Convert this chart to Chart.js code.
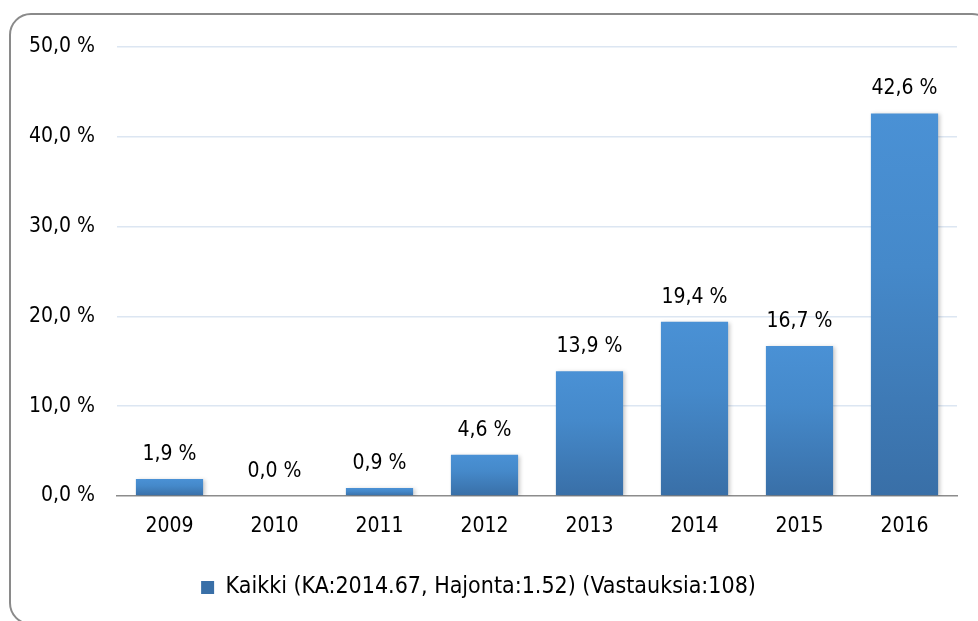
<!DOCTYPE html>
<html>
<head>
<meta charset="utf-8">
<script src="https://cdn.jsdelivr.net/npm/chart.js@4.4.1/dist/chart.umd.min.js"></script>
<style>
  html, body { margin: 0; padding: 0; background: #fff; overflow: hidden; }
  #wrap { position: relative; width: 978px; height: 621px; }
  #frame {
    position: absolute; left: 9px; top: 13px; width: 985px; height: 612px;
    border: 2px solid #8a8a8a; border-radius: 22px; box-sizing: border-box;
  }
  canvas { position: absolute; left: 0; top: 0; }
</style>
</head>
<body>
<div id="wrap">
  <div id="frame"></div>
  <canvas id="barChart" width="978" height="621"></canvas>
</div>
<script>
var years = ["2009", "2010", "2011", "2012", "2013", "2014", "2015", "2016"];
var shares = [1.9, 0.0, 0.9, 4.6, 13.9, 19.4, 16.7, 42.6];
var seriesName = "Kaikki (KA:2014.67, Hajonta:1.52) (Vastauksia:108)";
var yTicks = [0, 10, 20, 30, 40, 50];

var FONT = "'DejaVu Sans Condensed', 'Liberation Sans Narrow', 'DejaVu Sans', sans-serif";

function pct(v) {
    return v.toFixed(1).replace(".", ",") + " %";
}

function barFill(c) {
    var chart = c.chart;
    if (!chart.chartArea || c.type !== "data") return "#4a89cb";
    var y = chart.scales.y;
    var top = y.getPixelForValue(c.raw);
    var base = y.getPixelForValue(0);
    if (base - top < 1) return "#4a8fd2";
    var g = chart.ctx.createLinearGradient(0, top, 0, base);
    g.addColorStop(0, "#4a91d5");
    g.addColorStop(0.4, "#4589ca");
    g.addColorStop(1, "#396fa7");
    return g;
}

// soft shadow under bars + value labels on top
var barExtras = {
    id: "barExtras",
    beforeDatasetsDraw: function(chart) {
        var ctx = chart.ctx;
        ctx.save();
        ctx.shadowColor = "rgba(0,0,0,0.22)";
        ctx.shadowBlur = 4;
        ctx.shadowOffsetX = 2;
        ctx.shadowOffsetY = 1;
    },
    afterDatasetsDraw: function(chart) {
        var ctx = chart.ctx;
        ctx.restore();
        ctx.save();
        ctx.font = "21px " + FONT;
        ctx.fillStyle = "#000";
        ctx.textAlign = "center";
        ctx.textBaseline = "alphabetic";
        chart.getDatasetMeta(0).data.forEach(function(bar, i) {
            ctx.fillText(pct(shares[i]), bar.x, bar.y - 19);
        });
        ctx.restore();
    }
};

var ctxB = document.getElementById("barChart").getContext("2d");
var chart = new Chart(ctxB, {
    type: "bar",
    data: {
        labels: years,
        datasets: [{
            label: seriesName,
            data: shares,
            backgroundColor: barFill,
            borderWidth: 0,
            categoryPercentage: 0.64,
            barPercentage: 1.0
        }]
    },
    options: {
        responsive: false,
        animation: false,
        layout: { padding: { left: 0, right: 21, top: 47, bottom: 12 } },
        plugins: {
            legend: {
                position: "bottom",
                labels: {
                    color: "#000",
                    font: { family: FONT, size: 23 },
                    boxWidth: 13,
                    boxHeight: 13,
                    padding: 10
                }
            },
            tooltip: { enabled: false }
        },
        scales: {
            x: {
                grid: { display: false },
                border: { display: true, color: "#8c8c8c", width: 1.5 },
                ticks: { color: "#000", font: { family: FONT, size: 21 }, padding: 10 },
                afterFit: function(s) { s.height = 70; }
            },
            y: {
                min: 0,
                max: 50,
                afterBuildTicks: function(s) {
                    s.ticks = yTicks.map(function(v) { return { value: v }; });
                },
                grid: {
                    drawTicks: false,
                    lineWidth: 1.5,
                    color: function(c) { return c.tick && c.tick.value === 0 ? "rgba(0,0,0,0)" : "#dce6f2"; }
                },
                border: { display: false },
                ticks: {
                    color: "#000",
                    font: { family: FONT, size: 21 },
                    padding: 22,
                    callback: function(v) { return pct(v); }
                },
                afterFit: function(s) { s.width = 117; }
            }
        }
    },
    plugins: [barExtras]
});
</script>
</body>
</html>
